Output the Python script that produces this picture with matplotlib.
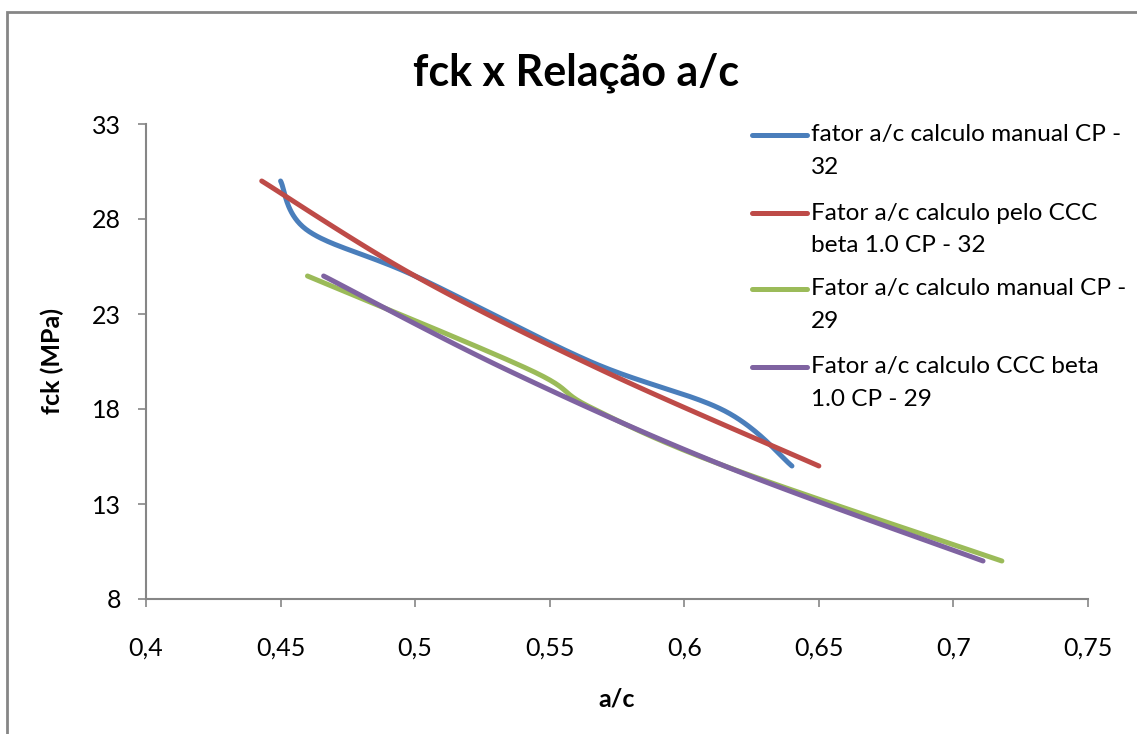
import numpy as np
import matplotlib
matplotlib.use("Agg")
import matplotlib.pyplot as plt
from matplotlib.lines import Line2D
from matplotlib.patches import Rectangle
from matplotlib.ticker import FuncFormatter

# --- dados (a/c, fck) ---
ac_manual_32 = [0.450, 0.460, 0.500, 0.565, 0.615, 0.640]
fck_manual_32 = [30.0, 27.4, 25.0, 20.5, 17.9, 15.0]

ac_ccc_32 = [0.443, 0.500, 0.570, 0.650]
fck_ccc_32 = [30.0, 25.0, 20.0, 15.0]

ac_manual_29 = [0.460, 0.542, 0.565, 0.615, 0.718]
fck_manual_29 = [25.0, 20.1, 18.1, 15.0, 10.0]

ac_ccc_29 = [0.466, 0.535, 0.615, 0.711]
fck_ccc_29 = [25.0, 20.0, 15.0, 10.0]

labels = [
    "fator a/c calculo manual CP -\n32",
    "Fator a/c calculo pelo CCC\nbeta 1.0 CP - 32",
    "Fator a/c calculo manual CP -\n29",
    "Fator a/c calculo CCC beta\n1.0 CP - 29",
]
colors = ["#4A7EBB", "#BE4B48", "#9BBB59", "#7F63A1"]

x_ticks = [0.4, 0.45, 0.5, 0.55, 0.6, 0.65, 0.7, 0.75]
y_ticks = [8, 13, 18, 23, 28, 33]


def smooth(xs, ys, n=40):
    """Linha suavizada estilo Excel (Catmull-Rom -> Bezier)."""
    p = np.column_stack([xs, ys]).astype(float)
    p = np.vstack([p[0], p, p[-1]])
    out = []
    t = np.linspace(0, 1, n)[:, None]
    for i in range(1, len(p) - 2):
        p0, p3 = p[i], p[i + 1]
        c1 = p0 + (p[i + 1] - p[i - 1]) / 6
        c2 = p3 - (p[i + 2] - p[i]) / 6
        seg = ((1 - t) ** 3) * p0 + 3 * ((1 - t) ** 2) * t * c1 + 3 * (1 - t) * t ** 2 * c2 + t ** 3 * p3
        out.append(seg)
    out = np.vstack(out)
    return out[:, 0], out[:, 1]


plt.rcParams['font.family'] = ['Lato', 'DejaVu Sans']

W, H = 1137, 734
fig = plt.figure(figsize=(W / 100, H / 100), dpi=100)
ax = fig.add_axes([146 / W, 1 - 599 / H, (1088 - 146) / W, (599 - 124) / H])

series = [
    (ac_manual_32, fck_manual_32),
    (ac_ccc_32, fck_ccc_32),
    (ac_manual_29, fck_manual_29),
    (ac_ccc_29, fck_ccc_29),
]
for (xs, ys), c in zip(series, colors):
    sx, sy = smooth(xs, ys)
    ax.plot(sx, sy, color=c, lw=3.6, solid_capstyle='round', solid_joinstyle='round')

ax.set_xlim(0.4, 0.75)
ax.set_ylim(8, 33)
ax.set_xticks(x_ticks)
ax.set_yticks(y_ticks)
ax.xaxis.set_major_formatter(FuncFormatter(lambda v, p: f"{v:g}".replace('.', ',')))
ax.tick_params(axis='x', length=6, width=1.2, color='#868686', pad=21, labelsize=18)
ax.tick_params(axis='y', length=6, width=1.2, color='#868686', pad=12, labelsize=18)
for s in ['top', 'right']:
    ax.spines[s].set_visible(False)
for s in ['left', 'bottom']:
    ax.spines[s].set_color('#868686')
    ax.spines[s].set_linewidth(1.5)

ax.set_xlabel('a/c', fontsize=18, fontweight='bold', labelpad=20)
ax.set_ylabel('fck (MPa)', fontsize=18, fontweight='bold', labelpad=20)

fig.text(576 / W, 1 - 73 / H, 'fck x Relação a/c', fontsize=31, fontweight='bold',
         ha='center', va='center')

# legenda desenhada à maneira do Excel
leg_y = [135, 213, 289, 367]
for lab, c, yy in zip(labels, colors, leg_y):
    fig.add_artist(Line2D([752 / W, 807 / W], [1 - yy / H, 1 - yy / H], color=c, lw=3.6,
                          solid_capstyle='round'))
    for k, line in enumerate(lab.split('\n')):
        fig.text(811 / W, 1 - (yy + 32 * k) / H, line, fontsize=17.6, ha='left', va='center')

# moldura da área do gráfico
fig.add_artist(Rectangle((7 / W, -0.2), 1.5, 1 - 12 / H + 0.2, transform=fig.transFigure,
                         fill=False, edgecolor='#868686', lw=2))

fig.savefig('out.png', dpi=100)
